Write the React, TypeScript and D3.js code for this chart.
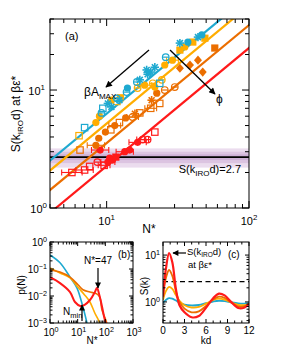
import React from 'react';
import * as d3 from 'd3';

type Shape = 'sq' | 'fsq' | 'circ' | 'theta' | 'dia' | 'star';
type Pt = [number, number, Shape, number]; // N*, S, marker, x-error factor (0 = none)

// ---- panel (a): S(k_IRO d) at beta eps* vs N*
const cyanPts: Pt[] = [
  [7.0, 4.8, 'sq', 0], [9.4, 7.0, 'sq', 0], [9.2, 6.4, 'theta', 0], [10.2, 7.7, 'star', 0],
  [10.8, 7.2, 'star', 0], [11.8, 8.5, 'theta', 0], [12.3, 8.2, 'star', 0], [13.8, 9.6, 'theta', 0],
  [14.0, 10.4, 'circ', 0], [16.3, 11.7, 'theta', 0], [17.1, 12.2, 'star', 0], [19.1, 14.8, 'star', 0],
  [19.4, 13.6, 'star', 0], [20.4, 14.2, 'star', 0], [21.8, 15.6, 'star', 0], [23.6, 11.4, 'sq', 0],
  [26.0, 19.0, 'theta', 0], [32.7, 25.0, 'star', 0], [37.2, 25.5, 'circ', 0], [43.8, 28.1, 'star', 0],
  [46.6, 29.3, 'circ', 0],
];
const yellowPts: Pt[] = [
  [6.4, 4.1, 'sq', 0], [8.4, 5.3, 'circ', 0], [8.9, 6.0, 'circ', 0], [10.8, 8.2, 'circ', 0],
  [11.8, 8.0, 'sq', 0], [12.5, 8.6, 'fsq', 0], [16.5, 10.4, 'theta', 0], [18.5, 11.0, 'circ', 1.12],
  [21.1, 11.4, 'theta', 0], [21.8, 10.6, 'circ', 0], [24.4, 12.2, 'theta', 0], [25.6, 16.3, 'circ', 0],
  [29.0, 17.9, 'circ', 1.1], [32.7, 21.8, 'fsq', 0], [35.4, 23.2, 'circ', 0], [40.3, 25.5, 'fsq', 0],
  [49.0, 27.5, 'fsq', 0],
];
const orangePts: Pt[] = [
  [6.5, 3.1, 'sq', 0], [8.4, 3.4, 'circ', 1.15], [8.8, 3.9, 'circ', 0], [9.8, 4.4, 'circ', 0],
  [10.7, 4.6, 'sq', 0], [11.4, 5.0, 'circ', 1.1], [12.3, 5.3, 'sq', 0], [13.6, 5.8, 'circ', 0],
  [15.2, 5.9, 'theta', 1.1], [15.8, 6.3, 'star', 0], [17.1, 6.4, 'sq', 0], [20.4, 7.0, 'sq', 1.1],
  [20.7, 8.2, 'star', 0], [22.5, 9.4, 'circ', 0], [23.6, 7.7, 'sq', 0], [25.6, 10.0, 'theta', 0],
  [30.1, 10.6, 'theta', 0], [32.7, 15.3, 'dia', 0], [38.5, 16.3, 'dia', 0], [43.8, 17.9, 'dia', 0],
  [47.3, 14.2, 'dia', 0], [57.5, 22.7, 'fsq', 0],
];
const redPts: Pt[] = [
  [5.7, 2.0, 'sq', 1.18], [7.0, 2.1, 'sq', 1.15], [7.6, 2.25, 'sq', 0], [9.0, 3.1, 'circ', 1.15],
  [8.6, 2.45, 'theta', 0], [9.6, 2.3, 'sq', 1.1], [10.2, 2.45, 'circ', 1.12], [10.5, 2.65, 'circ', 0],
  [11.0, 2.55, 'circ', 0], [11.6, 2.7, 'fsq', 0], [13.4, 3.0, 'circ', 1.15], [14.5, 3.1, 'circ', 0],
  [16.5, 3.6, 'circ', 1.15], [17.9, 3.8, 'theta', 1.1], [19.4, 3.8, 'theta', 0], [21.8, 4.4, 'sq', 0],
];
// prefactor c of the S = c * N* fits (cyan, yellow, orange, red)
const fitCoefs = [0.63, 0.52, 0.355, 0.227];
const sIRO = 2.7;
const sBands: [number, number][] = [[2.2, 3.2], [2.4, 3.0], [2.55, 2.85]];

// ---- panel (b): p(N) vs N*
const pCyan: [number, number][] = [[1, 0.33], [2.3, 0.17], [5.3, 0.05], [9.4, 0.02], [15.5, 0.0039], [21.7, 0.001], [25, 0.0005]];
const pYellow: [number, number][] = [[1, 0.11], [2.3, 0.071], [5.3, 0.047], [10.3, 0.021], [17.8, 0.011], [27.8, 0.006], [42, 0.0023], [63, 0.001], [72, 0.0005]];
const pOrange: [number, number][] = [[1, 0.092], [2.3, 0.077], [5.3, 0.05], [10.3, 0.026], [15.5, 0.017], [27.8, 0.014], [49, 0.012], [63, 0.009], [76, 0.003], [113, 0.001], [130, 0.0005]];
const pRed: [number, number][] = [[1, 0.05], [2.3, 0.03], [5.3, 0.014], [8, 0.006], [12.4, 0.0043], [17.8, 0.0047], [27.8, 0.0071], [42, 0.014], [50, 0.02], [62, 0.01], [76, 0.004], [96, 0.0013], [113, 0.0008]];

// ---- panel (c): S(k) vs kd
const kdGrid = [0, 0.4, 0.85, 1.3, 1.8, 2.3, 3, 4, 5, 6, 7, 7.8, 8.6, 9.5, 10.5, 11.3, 12];
const skCyan = [0.95, 1.1, 1.2, 1.17, 1.07, 0.97, 0.88, 0.84, 0.86, 0.94, 1.02, 1.06, 1.04, 0.98, 0.93, 0.92, 0.95];
const skYellow = [1.1, 1.7, 2.1, 1.9, 1.4, 1.05, 0.85, 0.76, 0.78, 0.92, 1.1, 1.18, 1.12, 0.98, 0.87, 0.85, 0.9];
const skOrange = [1.3, 3.2, 4.8, 3.6, 1.7, 1.0, 0.72, 0.6, 0.63, 0.82, 1.12, 1.3, 1.22, 0.98, 0.8, 0.8, 0.9];
const skRed = [1.3, 5.0, 11.0, 7.0, 1.9, 0.85, 0.6, 0.47, 0.5, 0.75, 1.2, 1.5, 1.38, 1.0, 0.74, 0.75, 0.92];

const COLORS = ['#1ea9d0', '#ffad00', '#eb6e00', '#ff1a1a'];
const FONT = '"Liberation Sans", Arial, sans-serif';

function logTicks(lo: number, hi: number) {
  const major: number[] = [];
  const minor: number[] = [];
  for (let e = Math.floor(Math.log10(lo)); e <= Math.ceil(Math.log10(hi)); e++) {
    for (let m = 1; m < 10; m++) {
      const v = m * Math.pow(10, e);
      if (v < lo * 0.999 || v > hi * 1.001) continue;
      (m === 1 ? major : minor).push(v);
    }
  }
  return { major, minor };
}

function Frame({ x0, x1, y0, y1, xs, ys, maj, min }: any) {
  const t: JSX.Element[] = [];
  const add = (px: number, len: number, key: string) => {
    t.push(<line key={key + 'b'} x1={px} x2={px} y1={y1} y2={y1 - len} />);
    t.push(<line key={key + 't'} x1={px} x2={px} y1={y0} y2={y0 + len} />);
  };
  const addY = (py: number, len: number, key: string) => {
    t.push(<line key={key + 'l'} x1={x0} x2={x0 + len} y1={py} y2={py} />);
    t.push(<line key={key + 'r'} x1={x1} x2={x1 - len} y1={py} y2={py} />);
  };
  xs.major.forEach((p: number, i: number) => add(p, maj, 'xM' + i));
  xs.minor.forEach((p: number, i: number) => add(p, min, 'xm' + i));
  ys.major.forEach((p: number, i: number) => addY(p, maj, 'yM' + i));
  ys.minor.forEach((p: number, i: number) => addY(p, min, 'ym' + i));
  return (
    <g stroke="#000" strokeWidth={1} fill="none">
      {t}
      <rect x={x0} y={y0} width={x1 - x0} height={y1 - y0} />
    </g>
  );
}

function Pow({ x, y, exp, anchor = 'middle', size = 11 }: any) {
  return (
    <text x={x} y={y} textAnchor={anchor} fontSize={size}>
      10<tspan dy={-size * 0.42} fontSize={size * 0.72}>{exp}</tspan>
    </text>
  );
}

function Mark({ x, y, shape, color }: { x: number; y: number; shape: Shape; color: string }) {
  const sw = 1.2;
  switch (shape) {
    case 'sq':
      return <rect x={x - 3.2} y={y - 3.2} width={6.4} height={6.4} fill="none" stroke={color} strokeWidth={sw} />;
    case 'fsq':
      return <rect x={x - 3.6} y={y - 3.6} width={7.2} height={7.2} fill={color} />;
    case 'circ':
      return <circle cx={x} cy={y} r={3.6} fill={color} />;
    case 'theta':
      return (
        <g stroke={color} strokeWidth={sw} fill="none">
          <circle cx={x} cy={y} r={3.3} />
          <line x1={x - 3.3} x2={x + 3.3} y1={y} y2={y} />
        </g>
      );
    case 'dia':
      return <path d={`M${x},${y - 4.6}L${x + 4},${y}L${x},${y + 4.6}L${x - 4},${y}Z`} fill={color} />;
    default: {
      const r = 4.2;
      return (
        <g stroke={color} strokeWidth={1.6}>
          {[0, 45, 90, 135].map(a => {
            const dx = r * Math.cos((a * Math.PI) / 180);
            const dy = r * Math.sin((a * Math.PI) / 180);
            return <line key={a} x1={x - dx} x2={x + dx} y1={y - dy} y2={y + dy} />;
          })}
        </g>
      );
    }
  }
}

export default function App() {
  // panel (a)
  const A = { x0: 50, x1: 249, y0: 19, y1: 208 };
  const ax = d3.scaleLog().domain([4, 100]).range([A.x0, A.x1]);
  const ay = d3.scaleLog().domain([1, 40]).range([A.y1, A.y0]);
  const axT = logTicks(4, 100);
  const ayT = logTicks(1, 40);

  // panel (b)
  const B = { x0: 50, x1: 133, y0: 242, y1: 323 };
  const bx = d3.scaleLog().domain([1, 1000]).range([B.x0, B.x1]);
  const by = d3.scaleLog().domain([1e-3, 1]).range([B.y1, B.y0]);
  const bxT = logTicks(1, 1000);
  const byT = logTicks(1e-3, 1);
  const bLine = d3.line<[number, number]>().x(d => bx(d[0])).y(d => by(d[1])).curve(d3.curveCatmullRom.alpha(0.5));

  // panel (c)
  const C = { x0: 163, x1: 249, y0: 242, y1: 323 };
  const cx = d3.scaleLinear().domain([0, 12]).range([C.x0, C.x1]);
  const cy = d3.scaleLog().domain([0.355, 19]).range([C.y1, C.y0]);
  const cyT = logTicks(0.355, 19);
  const cLine = d3.line<number>().x((_, i) => cx(kdGrid[i])).y(d => cy(d)).curve(d3.curveCatmullRom.alpha(0.5));

  const allPts = [cyanPts, yellowPts, orangePts, redPts];
  const pSeries = [pCyan, pYellow, pOrange, pRed];
  const skSeries = [skCyan, skYellow, skOrange, skRed];
  const bandFill = ['#ebdcee', '#dcc4e1', '#cdb0d5'];

  return (
    <svg width={300} height={360} style={{ position: 'absolute', left: 0, top: 0, background: '#fff' }} fontFamily={FONT}>
      <defs>
        <clipPath id="clipA"><rect x={A.x0} y={A.y0} width={A.x1 - A.x0} height={A.y1 - A.y0} /></clipPath>
        <clipPath id="clipB"><rect x={B.x0} y={B.y0} width={B.x1 - B.x0} height={B.y1 - B.y0} /></clipPath>
        <clipPath id="clipC"><rect x={C.x0} y={C.y0} width={C.x1 - C.x0} height={C.y1 - C.y0} /></clipPath>
        <marker id="ah" viewBox="0 0 10 10" refX={9} refY={5} markerWidth={6} markerHeight={5} orient="auto">
          <path d="M0,0L10,5L0,10Z" fill="#000" />
        </marker>
      </defs>

      {/* ---------- panel (a) ---------- */}
      <g clipPath="url(#clipA)">
        {sBands.map((b, i) => (
          <rect key={i} x={A.x0} width={A.x1 - A.x0} y={ay(b[1])} height={ay(b[0]) - ay(b[1])} fill={bandFill[i]} />
        ))}
        <line x1={A.x0} x2={A.x1} y1={ay(sIRO)} y2={ay(sIRO)} stroke="#000" strokeWidth={1.6} />
        {fitCoefs.map((c, i) => (
          <line key={i} x1={ax(3)} y1={ay(c * 3)} x2={ax(120)} y2={ay(c * 120)} stroke={COLORS[i]} strokeWidth={2.2} />
        ))}
        {[3, 2, 1, 0].map(si => (
          <g key={si}>
            {allPts[si].map((p, j) => (
              <g key={j}>
                {p[3] > 0 && (
                  <g stroke={COLORS[si]} strokeWidth={1.1}>
                    <line x1={ax(p[0] / p[3])} x2={ax(p[0] * p[3])} y1={ay(p[1])} y2={ay(p[1])} />
                    <line x1={ax(p[0] / p[3])} x2={ax(p[0] / p[3])} y1={ay(p[1]) - 3} y2={ay(p[1]) + 3} />
                    <line x1={ax(p[0] * p[3])} x2={ax(p[0] * p[3])} y1={ay(p[1]) - 3} y2={ay(p[1]) + 3} />
                  </g>
                )}
                <Mark x={ax(p[0])} y={ay(p[1])} shape={p[2]} color={COLORS[si]} />
              </g>
            ))}
          </g>
        ))}
      </g>
      <Frame x0={A.x0} x1={A.x1} y0={A.y0} y1={A.y1} maj={7} min={4}
        xs={{ major: axT.major.map(v => ax(v)), minor: axT.minor.map(v => ax(v)) }}
        ys={{ major: ayT.major.map(v => ay(v)), minor: ayT.minor.map(v => ay(v)) }} />
      <g fill="#000">
        <Pow x={ax(10)} y={225} exp="1" />
        <Pow x={ax(100)} y={225} exp="2" />
        <Pow x={47} y={ay(1) + 5} exp="0" anchor="end" />
        <Pow x={45} y={ay(10) + 5} exp="1" anchor="end" />
        <text x={149} y={233} textAnchor="middle" fontSize={12}>N*</text>
        <text transform="translate(20,114) rotate(-90)" textAnchor="middle" fontSize={12}>
          S(k<tspan fontSize={8} dy={3}>IRO</tspan><tspan dy={-3}>d) at βε*</tspan>
        </text>
        <text x={65} y={40} fontSize={11}>(a)</text>
        <text x={84} y={96} fontSize={12}>βA<tspan fontSize={8} dy={3}>MAX</tspan></text>
        <text x={216} y={103} fontSize={12}>ϕ</text>
        <text x={241} y={173} textAnchor="end" fontSize={11}>
          S(k<tspan fontSize={8} dy={3}>IRO</tspan><tspan dy={-3}>d)=2.7</tspan>
        </text>
      </g>
      <line x1={149} y1={50} x2={106} y2={87} stroke="#000" strokeWidth={1.3} markerEnd="url(#ah)" />
      <line x1={170} y1={50} x2={215} y2={94} stroke="#000" strokeWidth={1.3} markerEnd="url(#ah)" />

      {/* ---------- panel (b) ---------- */}
      <g clipPath="url(#clipB)" fill="none">
        {pSeries.map((s, i) => (
          <path key={i} d={bLine(s) || ''} stroke={COLORS[i]} strokeWidth={i === 3 ? 2 : 1.6} />
        ))}
      </g>
      <Frame x0={B.x0} x1={B.x1} y0={B.y0} y1={B.y1} maj={4} min={2.5}
        xs={{ major: bxT.major.map(v => bx(v)), minor: bxT.minor.map(v => bx(v)) }}
        ys={{ major: byT.major.map(v => by(v)), minor: byT.minor.map(v => by(v)) }} />
      <g fill="#000">
        {[0, 1, 2, 3].map(e => <Pow key={'bx' + e} x={bx(Math.pow(10, e)) + 1} y={336} exp={String(e)} size={10} />)}
        {[0, -1, -2, -3].map(e => (
          <Pow key={'by' + e} x={47} y={by(Math.pow(10, e)) + 4} exp={e === 0 ? '0' : '\u2212' + -e} anchor="end" size={10} />
        ))}
        <text x={92} y={344} textAnchor="middle" fontSize={10}>N*</text>
        <text transform="translate(25,285) rotate(-90)" textAnchor="middle" fontSize={10}>p(N)</text>
        <text x={118} y={258} fontSize={10}>(b)</text>
        <text x={98} y={264} textAnchor="middle" fontSize={10}>N*=47</text>
        <text x={63} y={315} fontSize={10}>N<tspan fontSize={7.5} dy={3}>min</tspan></text>
      </g>
      <line x1={98} y1={268} x2={98} y2={288} stroke="#000" strokeWidth={1.2} markerEnd="url(#ah)" />
      <line x1={82} y1={321} x2={82} y2={305} stroke="#000" strokeWidth={1.2} markerEnd="url(#ah)" />

      {/* ---------- panel (c) ---------- */}
      <g clipPath="url(#clipC)" fill="none">
        <line x1={C.x0} x2={C.x1} y1={cy(sIRO)} y2={cy(sIRO)} stroke="#000" strokeWidth={1.3} strokeDasharray="5,3.5" />
        {skSeries.map((s, i) => (
          <path key={i} d={cLine(s) || ''} stroke={COLORS[i]} strokeWidth={i === 3 ? 2.2 : 1.8} />
        ))}
      </g>
      <Frame x0={C.x0} x1={C.x1} y0={C.y0} y1={C.y1} maj={4} min={2.5}
        xs={{ major: [0, 3, 6, 9, 12].map(v => cx(v)), minor: d3.range(1, 12).filter(v => v % 3 !== 0).map(v => cx(v)) }}
        ys={{ major: cyT.major.map(v => cy(v)), minor: cyT.minor.map(v => cy(v)) }} />
      <g fill="#000">
        {[0, 3, 6, 9, 12].map(v => (
          <text key={v} x={cx(v)} y={334} textAnchor="middle" fontSize={10}>{v}</text>
        ))}
        <Pow x={160} y={cy(10) + 4} exp="1" anchor="end" size={10} />
        <Pow x={160} y={cy(1) + 4} exp="0" anchor="end" size={10} />
        <text x={206} y={344} textAnchor="middle" fontSize={10}>kd</text>
        <text transform="translate(148,286) rotate(-90)" textAnchor="middle" fontSize={10}>S(k)</text>
        <text x={187} y={255} fontSize={9.5}>S(k<tspan fontSize={6.5} dy={2}>IRO</tspan><tspan dy={-2}>d)</tspan></text>
        <text x={188} y={268} fontSize={9.5}>at βε*</text>
        <text x={228} y={258} fontSize={10}>(c)</text>
      </g>
      <line x1={186} y1={253} x2={173} y2={253} stroke="#000" strokeWidth={1.2} markerEnd="url(#ah)" />
    </svg>
  );
}
